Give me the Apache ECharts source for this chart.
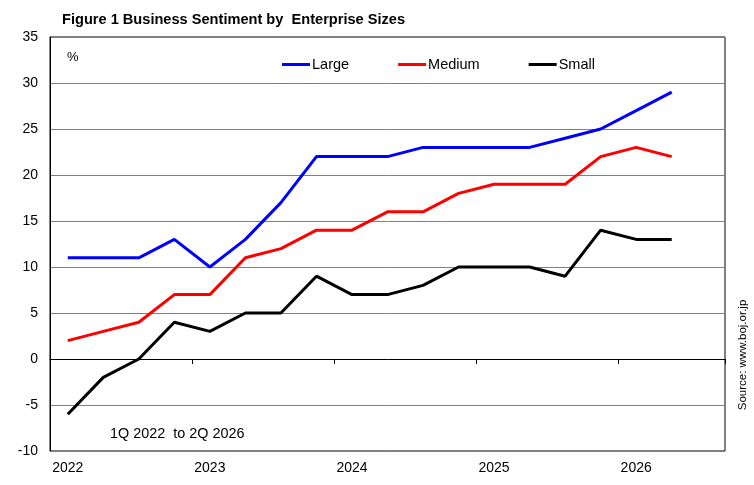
<!DOCTYPE html>
<html>
<head>
<meta charset="utf-8">
<style>
  html, body { margin: 0; padding: 0; background: #fff; }
  #chart { width: 754px; height: 485px; }
</style>
<script src="https://cdn.jsdelivr.net/npm/echarts@6/dist/echarts.min.js"></script>
</head>
<body>
<div id="chart"></div>
<script>
// quarters 1Q 2022 .. 3Q 2026 (last slot left empty, as in the original)
var quarters = ['1Q 2022','2Q 2022','3Q 2022','4Q 2022',
                '1Q 2023','2Q 2023','3Q 2023','4Q 2023',
                '1Q 2024','2Q 2024','3Q 2024','4Q 2024',
                '1Q 2025','2Q 2025','3Q 2025','4Q 2025',
                '1Q 2026','2Q 2026','3Q 2026'];
var large  = [11, 11, 11, 13, 10, 13, 17, 22, 22, 22, 23, 23, 23, 23, 24, 25, 27, 29];
var medium = [2, 3, 4, 7, 7, 11, 12, 14, 14, 16, 16, 18, 19, 19, 19, 22, 23, 22];
var small  = [-6, -2, 0, 4, 3, 5, 5, 9, 7, 7, 8, 10, 10, 10, 9, 14, 13, 13];
var yTicks = { min: -10, max: 35, step: 5 };

var font = 'Liberation Sans, Arial, sans-serif';
var myChart = echarts.init(document.getElementById('chart'));
var option = {
    backgroundColor: '#fff',
    animation: false,
    title: {
        text: 'Figure 1 Business Sentiment by  Enterprise Sizes',
        left: 62,
        top: 12,
        padding: 0,
        textStyle: { fontFamily: font, fontSize: 14.6, fontWeight: 'bold', color: '#000' }
    },
    legend: {
        left: 282,
        top: 57,
        padding: 0,
        itemWidth: 28,
        itemHeight: 3,
        itemGap: 49,
        icon: 'rect',
        textStyle: { fontFamily: font, fontSize: 14.5, color: '#000', padding: [0, 0, 0, -3] },
        data: ['Large', 'Medium', 'Small']
    },
    grid: {
        left: 50,
        right: 29,
        top: 37,
        bottom: 34,
        show: true,
        borderColor: '#000',
        borderWidth: 1,
        containLabel: false
    },
    xAxis: [
        {
            // the line through zero with year ticks
            type: 'category',
            data: quarters,
            boundaryGap: true,
            axisLine: { onZero: true, lineStyle: { color: '#000', width: 1 } },
            axisTick: { show: true, interval: 3, length: 5, lineStyle: { color: '#000' } },
            axisLabel: { show: false },
            splitLine: { show: false }
        },
        {
            // year labels at the bottom
            type: 'category',
            data: quarters,
            position: 'bottom',
            boundaryGap: true,
            axisLine: { show: false, onZero: false },
            axisTick: { show: false },
            axisLabel: {
                interval: 3,
                margin: 10,
                fontFamily: font,
                fontSize: 14,
                color: '#000',
                formatter: function (v) { return v.split(' ')[1]; }
            },
            splitLine: { show: false }
        }
    ],
    yAxis: {
        type: 'value',
        min: yTicks.min,
        max: yTicks.max,
        interval: yTicks.step,
        axisLine: { show: true, lineStyle: { color: '#000' } },
        axisTick: { show: false },
        axisLabel: { margin: 12, fontFamily: font, fontSize: 14, color: '#000' },
        splitLine: { lineStyle: { color: '#808080', width: 1 } }
    },
    graphic: [
        {
            type: 'text', left: 67, top: 51,
            style: { text: '%', fontFamily: font, fontSize: 13, fill: '#000' }
        },
        {
            type: 'text', left: 110, top: 427,
            style: { text: '1Q 2022  to 2Q 2026', fontFamily: font, fontSize: 14.4, fill: '#000' }
        },
        {
            type: 'text', x: 743, y: 355, rotation: Math.PI / 2,
            style: {
                text: 'Source: www.boj.or.jp', fontFamily: font, fontSize: 11.5, fill: '#000',
                align: 'center', verticalAlign: 'middle'
            }
        }
    ],
    series: [
        {
            name: 'Large', type: 'line', xAxisIndex: 0, data: large,
            symbol: 'none', color: '#0000ff', lineStyle: { width: 3, color: '#0000ff' }
        },
        {
            name: 'Medium', type: 'line', xAxisIndex: 0, data: medium,
            symbol: 'none', color: '#ff0000', lineStyle: { width: 3, color: '#ff0000' }
        },
        {
            name: 'Small', type: 'line', xAxisIndex: 0, data: small,
            symbol: 'none', color: '#000000', lineStyle: { width: 3, color: '#000000' }
        }
    ]
};
myChart.setOption(option);
</script>
</body>
</html>
